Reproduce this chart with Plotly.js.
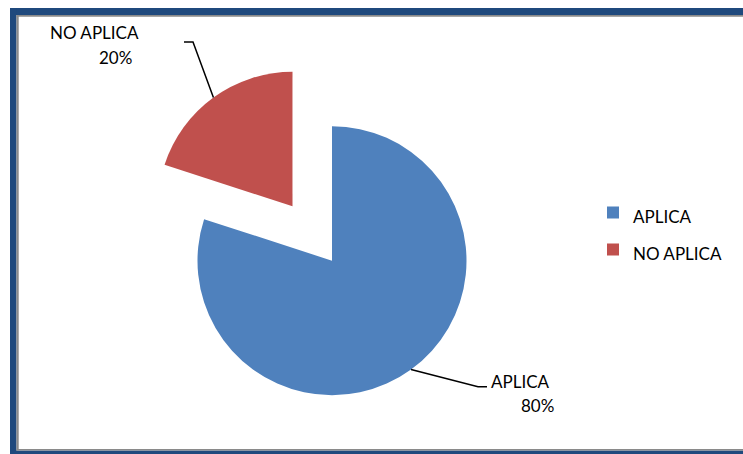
<!DOCTYPE html>
<html><head><meta charset="utf-8">
<script src="https://cdn.plot.ly/plotly-3.0.1.min.js"></script>
<style>
html,body{margin:0;padding:0;background:#fff;overflow:hidden}
#wrap{position:absolute;left:0;top:0;width:743px;height:454px;overflow:hidden;background:#fff}
#chart{width:743px;height:470px}
</style></head>
<body><div id="wrap"><div id="chart"></div></div>
<script>
// ---- data ----
const categories = ['APLICA', 'NO APLICA'];
const values = [80, 20];
const colors = ['#4F81BD', '#C0504D'];
const pulls = [0, 0.5];

// ---- layout geometry (pixels) ----
const W = 743, H = 470;
const CX = 332, CY = 260.7, R = 134.5;
const FONT = 'Lato, "Open Sans", sans-serif';
const maxPull = Math.max(...pulls);
const half = R * (1 + maxPull);
const px = x => x / W, py = y => 1 - y / H;

const total = values.reduce((a, b) => a + b, 0);
let cum = 0;
const mids = values.map(v => { const m = (cum + v / 2) / total * 2 * Math.PI; cum += v; return m; });
function arcPoint(i) {
  const a = mids[i];
  const cx = CX + pulls[i] * R * Math.sin(a), cy = CY - pulls[i] * R * Math.cos(a);
  return [cx + R * Math.sin(a), cy - R * Math.cos(a)];
}

// label placement (pixels)
const labelPos = [
  {name: [520.4, 381.7], pct: [537.5, 405.7], elbow: [478, 386.7], end: [487, 386.7]},
  {name: [94, 32.5], pct: [115, 57], elbow: [193, 42], end: [184, 42]}
];

const annotations = [];
const shapes = [];
categories.forEach((c, i) => {
  const lp = labelPos[i];
  const pct = Math.round(values[i] / total * 100) + '%';
  annotations.push({x: px(lp.name[0]), y: py(lp.name[1]), xref: 'paper', yref: 'paper', text: c,
    showarrow: false, xanchor: 'center', yanchor: 'middle', font: {family: FONT, size: 17, color: '#000'}});
  annotations.push({x: px(lp.pct[0]), y: py(lp.pct[1]), xref: 'paper', yref: 'paper', text: pct,
    showarrow: false, xanchor: 'center', yanchor: 'middle', font: {family: FONT, size: 17, color: '#000'}});
  const s = arcPoint(i);
  shapes.push({type: 'path', xref: 'paper', yref: 'paper',
    path: `M ${px(s[0])} ${py(s[1])} L ${px(lp.elbow[0])} ${py(lp.elbow[1])} L ${px(lp.end[0])} ${py(lp.end[1])}`,
    line: {color: '#000', width: 1.5}});
});

// frame
function rect(x0, y0, x1, y1, color) {
  return {type: 'rect', xref: 'paper', yref: 'paper', x0: px(x0), x1: px(x1), y0: py(y1), y1: py(y0),
    fillcolor: color, line: {width: 0}, layer: 'above'};
}
const BLUE = '#1F497D', GRAY = '#8A8A8A';
shapes.push(rect(10, 8, 743, 15, BLUE));
shapes.push(rect(10, 8, 16.5, 470, BLUE));
shapes.push(rect(10, 450.5, 743, 470, BLUE));
shapes.push(rect(16.5, 15, 743, 16.7, GRAY));
shapes.push(rect(16.5, 15, 18.7, 450.5, GRAY));
shapes.push(rect(16.5, 449, 743, 450.5, GRAY));

const trace = {
  type: 'pie',
  labels: categories.map(c => `<span style="font-size:17px">${c}</span>`),
  values: values,
  marker: {colors: colors, line: {width: 0}},
  pull: pulls,
  sort: false,
  direction: 'clockwise',
  rotation: 0,
  textinfo: 'none',
  hoverinfo: 'percent',
  domain: {x: [px(CX - half), px(CX + half)], y: [py(CY + half), py(CY - half)]}
};

const layout = {
  width: W, height: H,
  margin: {l: 0, r: 0, t: 0, b: 0},
  paper_bgcolor: '#fff',
  font: {family: FONT, color: '#000'},
  showlegend: true,
  legend: {x: px(593), xanchor: 'left', y: py(189.2), yanchor: 'top',
    font: {family: FONT, size: 26, color: '#000'}, bgcolor: 'rgba(0,0,0,0)'},
  shapes: shapes,
  annotations: annotations
};

Plotly.newPlot('chart', [trace], layout, {displayModeBar: false, staticPlot: true});
</script>
</body></html>
